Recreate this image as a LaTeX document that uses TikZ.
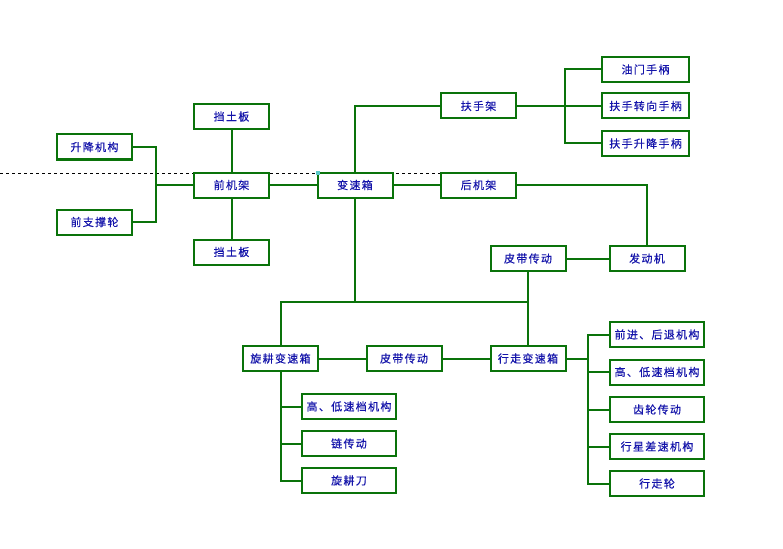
\documentclass[tikz,border=0pt]{standalone}
\usepackage{fontspec}
\newfontfamily\cjk[LetterSpace=12,FakeBold=0.4]{Noto Sans CJK SC}
\definecolor{lgreen}{RGB}{10,115,10}
\definecolor{tblue}{RGB}{20,20,170}
\definecolor{handle}{RGB}{90,200,200}
\begin{document}
\begin{tikzpicture}[x=1pt,y=-1pt,
  box/.style={draw=lgreen,line width=2pt,fill=white,minimum width=75pt,minimum height=25pt,inner sep=0pt,
    font=\cjk\fontsize{11}{12}\selectfont,text=tblue},
  wbox/.style={box,minimum width=87pt},
  rbox/.style={box,minimum width=94pt},
  conn/.style={draw=lgreen,line width=2pt}]
\useasboundingbox (0,0) rectangle (783,548);
\fill[white] (0,0) rectangle (783,548);
\draw[black,line width=0.8pt,dash pattern=on 3pt off 3pt] (0,173) -- (441,173);

\node[box] (dtb1) at (231.5,116.5) {挡土板};
\node[box] (sjjg) at (94.5,147) {升降机构};
\node[box] (qzcl) at (94.5,222) {前支撑轮};
\node[box] (qjj) at (231.5,185) {前机架};
\node[box] (dtb2) at (231.5,252) {挡土板};
\node[box] (bsx) at (355,185) {变速箱};
\node[box] (fsj) at (478.5,106) {扶手架};
\node[wbox] (ymsb) at (645.5,69.5) {油门手柄};
\node[wbox] (zxsb) at (645.5,106) {扶手转向手柄};
\node[wbox] (sjsb) at (645.5,143.5) {扶手升降手柄};
\node[box] (hjj) at (478.5,185) {后机架};
\node[box] (fdj) at (647,258.5) {发动机};
\node[box] (pd1) at (528,258.5) {皮带传动};
\node[box] (xgbsx) at (280.5,358.5) {旋耕变速箱};
\node[box] (pd2) at (404,358.5) {皮带传动};
\node[box] (xzbsx) at (528,358.5) {行走变速箱};
\node[rbox] (r1) at (657,334.5) {前进、后退机构};
\node[rbox] (r2) at (657,372) {高、低速档机构};
\node[rbox] (r3) at (657,409.5) {齿轮传动};
\node[rbox] (r4) at (657,446.5) {行星差速机构};
\node[rbox] (r5) at (657,483.5) {行走轮};
\node[rbox] (l1) at (349,406.5) {高、低速档机构};
\node[rbox] (l2) at (349,443.5) {链传动};
\node[rbox] (l3) at (349,480.5) {旋耕刀};

\coordinate (b1) at (156,185);
\coordinate (b2) at (565,106);
\coordinate (b3) at (528,302);
\coordinate (b4) at (588,358.5);

\draw[conn] (sjjg.east) -| (b1) |- (qzcl.east);
\draw[conn] (b1) -- (qjj.west);
\draw[conn] (dtb1.south) -- (qjj.north);
\draw[conn] (qjj.south) -- (dtb2.north);
\draw[conn] (qjj.east) -- (bsx.west);
\draw[conn] (bsx.north) |- (fsj.west);
\draw[conn] (fsj.east) -- (zxsb.west);
\draw[conn] (ymsb.west) -| (b2) |- (sjsb.west);
\draw[conn] (bsx.east) -- (hjj.west);
\draw[conn] (hjj.east) -| (fdj.north);
\draw[conn] (pd1.east) -- (fdj.west);
\draw[conn] (pd1.south) -- (xzbsx.north);
\draw[conn] (bsx.south) -- (bsx.south |- b3);
\draw[conn] (xgbsx.north) |- (b3);
\draw[conn] (xgbsx.east) -- (pd2.west);
\draw[conn] (pd2.east) -- (xzbsx.west);
\draw[conn] (xzbsx.east) -- (b4);
\draw[conn] (r1.west) -| (b4) |- (r5.west);
\draw[conn] (r2.west) -- (r2.west -| b4);
\draw[conn] (r3.west) -- (r3.west -| b4);
\draw[conn] (r4.west) -- (r4.west -| b4);
\draw[conn] (xgbsx.south) |- (l3.west);
\draw[conn] (l1.west) -- (l1.west -| xgbsx.south);
\draw[conn] (l2.west) -- (l2.west -| xgbsx.south);
\fill[handle] (316,171) rectangle (320,175);
\end{tikzpicture}
\end{document}
